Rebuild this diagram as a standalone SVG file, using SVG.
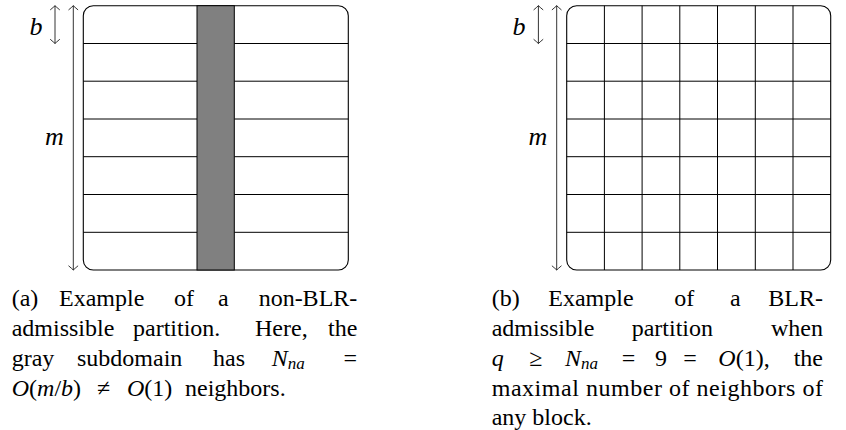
<svg xmlns="http://www.w3.org/2000/svg" width="846" height="430" viewBox="0 0 846 430">
<style>
text, tspan{font-family:"Liberation Serif",serif}
.box{fill:none;stroke:#000;stroke-width:1.1}
.grid{stroke:#000;stroke-width:1}
.gray{fill:#808080;stroke:#000;stroke-width:1}
.arr{stroke:#000;stroke-width:0.8;fill:none}
.lbl{font-style:italic;font-size:26px;fill:#000}
.cap text{font-size:24px;fill:#000}
.it{font-style:italic}
.sub{font-style:italic;font-size:17px}
</style>
<defs>
<marker id="tip" viewBox="-6 -6 8 12" markerUnits="userSpaceOnUse" markerWidth="8" markerHeight="12" refX="0" refY="0" orient="auto-start-reverse" overflow="visible">
<path d="M-4,-4.5 Q-1.2,-1.2 0,0 Q-1.2,1.2 -4,4.5" fill="none" stroke="#000" stroke-width="0.8" stroke-linecap="round"/>
</marker>
</defs>

<g id="panel-a">
  <g id="a-rows">
    <rect x="83.3" y="5.7" width="265" height="264.3" rx="10" fill="#fff"/>
    <path class="grid" d="M83.3,43.5H197M83.3,81.2H197M83.3,119H197M83.3,156.7H197M83.3,194.5H197M83.3,232.3H197M234.3,43.5H348.3M234.3,81.2H348.3M234.3,119H348.3M234.3,156.7H348.3M234.3,194.5H348.3M234.3,232.3H348.3"/>
    <rect class="box" x="83.3" y="5.7" width="265" height="264.3" rx="10"/>
  </g>
  <g id="a-gray-subdomain">
    <rect class="gray" x="197" y="5.7" width="37.3" height="264.3"/>
  </g>
  <g id="a-labels">
    <text class="lbl" x="36" y="35" text-anchor="middle">b</text>
    <text class="lbl" x="54.3" y="145" text-anchor="middle">m</text>
  </g>
</g>

<g id="panel-b">
  <g id="b-grid">
    <rect x="566.7" y="5.7" width="264" height="264.3" rx="10" fill="#fff"/>
    <path class="grid" d="M566.7,43.5H830.7M566.7,81.2H830.7M566.7,119H830.7M566.7,156.7H830.7M566.7,194.5H830.7M566.7,232.3H830.7M604.4,5.7V270M642.1,5.7V270M679.8,5.7V270M717.5,5.7V270M755.3,5.7V270M793,5.7V270"/>
    <rect class="box" x="566.7" y="5.7" width="264" height="264.3" rx="10"/>
  </g>
  <g id="b-labels">
    <text class="lbl" x="519" y="35" text-anchor="middle">b</text>
    <text class="lbl" x="538" y="145" text-anchor="middle">m</text>
  </g>
</g>

<g id="connectors">
  <line class="arr" x1="55" y1="43.5" x2="55" y2="5.7" marker-start="url(#tip)" marker-end="url(#tip)"/>
  <line class="arr" x1="73.3" y1="270" x2="73.3" y2="5.7" marker-start="url(#tip)" marker-end="url(#tip)"/>
  <line class="arr" x1="538.4" y1="43.5" x2="538.4" y2="5.7" marker-start="url(#tip)" marker-end="url(#tip)"/>
  <line class="arr" x1="556.7" y1="270" x2="556.7" y2="5.7" marker-start="url(#tip)" marker-end="url(#tip)"/>
</g>

<g id="caption-a" class="cap">
  <text x="11.7" y="306">(a)</text>
  <text x="59" y="306">Example</text>
  <text x="174" y="306">of</text>
  <text x="218" y="306">a</text>
  <text x="357.3" y="306" text-anchor="end">non-BLR-</text>
  <text x="11.7" y="336">admissible</text>
  <text x="133" y="336">partition.</text>
  <text x="255" y="336">Here,</text>
  <text x="357.3" y="336" text-anchor="end">the</text>
  <text x="11.7" y="366">gray</text>
  <text x="77" y="366">subdomain</text>
  <text x="213" y="366">has</text>
  <text x="271.7" y="366"><tspan class="it">N</tspan><tspan class="sub" dy="3">na</tspan></text>
  <text x="357" y="366" text-anchor="end">=</text>
  <text x="11.7" y="395.5"><tspan class="it">O</tspan>(<tspan class="it">m</tspan>/<tspan class="it">b</tspan>)</text>
  <text x="97" y="395.5">≠</text>
  <text x="127" y="395.5"><tspan class="it">O</tspan>(1)</text>
  <text x="185" y="395.5">neighbors.</text>
</g>

<g id="caption-b" class="cap">
  <text x="491.7" y="306">(b)</text>
  <text x="548.3" y="306">Example</text>
  <text x="674.3" y="306">of</text>
  <text x="730" y="306">a</text>
  <text x="823" y="306" text-anchor="end">BLR-</text>
  <text x="491.7" y="336">admissible</text>
  <text x="631.7" y="336">partition</text>
  <text x="823" y="336" text-anchor="end">when</text>
  <text x="491.7" y="366" class="it">q</text>
  <text x="529.3" y="366">≥</text>
  <text x="565" y="366"><tspan class="it">N</tspan><tspan class="sub" dy="3">na</tspan></text>
  <text x="621.7" y="366">=</text>
  <text x="655" y="366">9</text>
  <text x="683.3" y="366">=</text>
  <text x="718.3" y="366"><tspan class="it">O</tspan>(1),</text>
  <text x="823" y="366" text-anchor="end">the</text>
  <text x="491.7" y="395.5" textLength="331.3" lengthAdjust="spacing">maximal number of neighbors of</text>
  <text x="491.7" y="425">any block.</text>
</g>
</svg>
